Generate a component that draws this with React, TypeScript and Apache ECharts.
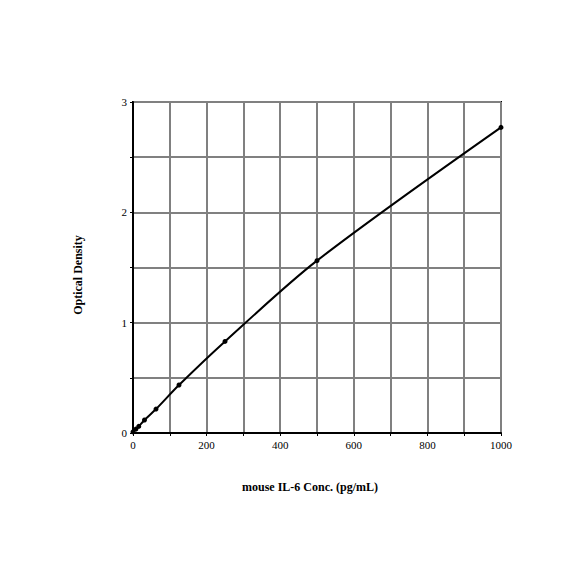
import React, { useEffect, useRef } from "react";
import * as echarts from "echarts";

const concentrations = [0, 7.8, 15.6, 31.25, 62.5, 125, 250, 500, 1000];
const opticalDensity = [0.01, 0.035, 0.06, 0.118, 0.217, 0.435, 0.83, 1.562, 2.77];
const xLabelValues = [0, 200, 400, 600, 800, 1000];
const yLabelValues = [0, 1, 2, 3];
const xTitle = "mouse IL-6 Conc. (pg/mL)";
const yTitle = "Optical Density";

const FONT = "Liberation Serif";

export default function App() {
  const ref = useRef<HTMLDivElement>(null);
  useEffect(() => {
    document.body.style.margin = "0";
    const chart = echarts.init(ref.current!, null, { renderer: "svg" });
    chart.setOption({
      animation: false,
      backgroundColor: "#ffffff",
      grid: {
        left: 133,
        top: 102,
        width: 368,
        height: 331,
        show: true,
        borderColor: "#000000",
        borderWidth: 2,
        backgroundColor: "transparent",
      },
      graphic: [
        {
          type: "text",
          x: 310,
          y: 487,
          style: {
            text: xTitle,
            fontFamily: FONT,
            fontWeight: "bold",
            fontSize: 12,
            fill: "#000",
            align: "center",
            verticalAlign: "middle",
          },
        },
        {
          type: "text",
          x: 78,
          y: 275,
          rotation: Math.PI / 2,
          style: {
            text: yTitle,
            fontFamily: FONT,
            fontWeight: "bold",
            fontSize: 12,
            fill: "#000",
            align: "center",
            verticalAlign: "middle",
          },
        },
      ],
      xAxis: {
        type: "value",
        min: 0,
        max: 1000,
        interval: 100,
        axisLine: { show: true, lineStyle: { color: "#000", width: 2 } },
        axisTick: { show: true, length: 3, lineStyle: { color: "#000", width: 1 } },
        axisLabel: {
          fontFamily: FONT,
          fontSize: 11,
          color: "#000",
          margin: 6,
          formatter: (v: number) => (xLabelValues.includes(v) ? String(v) : ""),
        },
        splitLine: { show: true, lineStyle: { color: "#808080", width: 2 } },
      },
      yAxis: {
        type: "value",
        min: 0,
        max: 3,
        interval: 0.5,
        axisLine: { show: true, lineStyle: { color: "#000", width: 2 } },
        axisTick: { show: true, length: 3, lineStyle: { color: "#000", width: 1 } },
        axisLabel: {
          fontFamily: FONT,
          fontSize: 11,
          color: "#000",
          margin: 6,
          formatter: (v: number) => (yLabelValues.includes(v) ? String(v) : ""),
        },
        splitLine: { show: true, lineStyle: { color: "#808080", width: 2 } },
      },
      series: [
        {
          type: "line",
          data: concentrations.map((c, i) => [c, opticalDensity[i]]),
          smooth: 0.3,
          symbol: "circle",
          symbolSize: 5,
          itemStyle: { color: "#000" },
          lineStyle: { color: "#000", width: 2 },
          clip: false,
        },
      ],
    });
    return () => chart.dispose();
  }, []);
  return <div ref={ref} style={{ width: 584, height: 584 }} />;
}
